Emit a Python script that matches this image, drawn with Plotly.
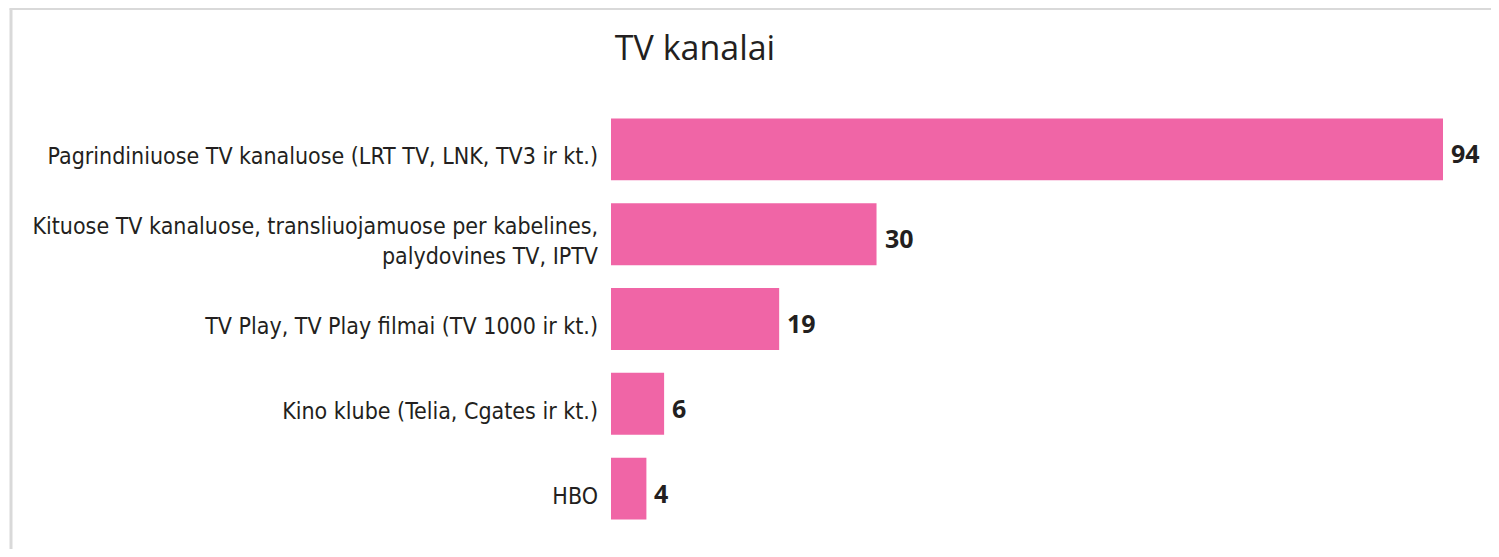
import plotly.graph_objects as go

categories = [
    "Pagrindiniuose TV kanaluose (LRT TV, LNK, TV3 ir kt.)",
    "Kituose TV kanaluose, transliuojamuose per kabelines,<br>palydovines TV, IPTV",
    "TV Play, TV Play filmai (TV 1000 ir kt.)",
    "Kino klube (Telia, Cgates ir kt.)",
    "HBO",
]
values = [94, 30, 19, 6, 4]
title_text = "TV kanalai"

# page has an 8px body margin; figure coords = page coords - 8
OFF = 8
W, H = 1499 - 2 * OFF, 557 - 2 * OFF
L, T = 611 - OFF, 107 - OFF
R = 0
ph = 424
B = H - T - ph
pw = W - L - R
scale = 832 / 94.0  # px per unit
xmax = pw / scale

fig = go.Figure(go.Bar(
    x=values, y=categories, orientation="h",
    marker=dict(color="#F065A6", line=dict(width=0)),
    width=0.73, hoverinfo="skip",
))

for c, v in zip(categories, values):
    fig.add_annotation(x=v, y=c, text=f"<b>{v}</b>", showarrow=False,
                       xanchor="left", xshift=6, yshift=-4,
                       font=dict(family="Open Sans, DejaVu Sans", size=25, color="#231F20"))

# outer frame: only top and left edges are visible in the reference
fx0 = (11 - OFF - L) / pw
fy1 = 1 + (T - 0.5) / ph
frame = dict(color="#D9D9D9", width=3)
fig.add_shape(type="line", xref="paper", yref="paper", x0=fx0 - 1.5 / pw, x1=1.05, y0=fy1, y1=fy1,
              line=frame, layer="below")
fig.add_shape(type="line", xref="paper", yref="paper", x0=fx0, x1=fx0, y0=-0.1, y1=fy1,
              line=frame, layer="below")

fig.update_layout(
    width=W, height=H,
    margin=dict(l=L, r=R, t=T, b=B),
    paper_bgcolor="white", plot_bgcolor="white",
    showlegend=False,
    title=dict(text=title_text, x=(695 - OFF) / W, xanchor="center", xref="container",
               y=1 - (48 - OFF) / H, yanchor="middle", yref="container",
               font=dict(family="Open Sans, DejaVu Sans", size=34, color="#231F20")),
    xaxis=dict(range=[0, xmax], visible=False, fixedrange=True),
    yaxis=dict(autorange="reversed", showgrid=False, zeroline=False, showline=False,
               ticks="", ticklabelstandoff=12, ticklabelshift=-7,
               tickfont=dict(family="Liberation Sans Narrow, DejaVu Sans Condensed", size=23, color="#231F20")),
)

fig.write_html("out.html")
